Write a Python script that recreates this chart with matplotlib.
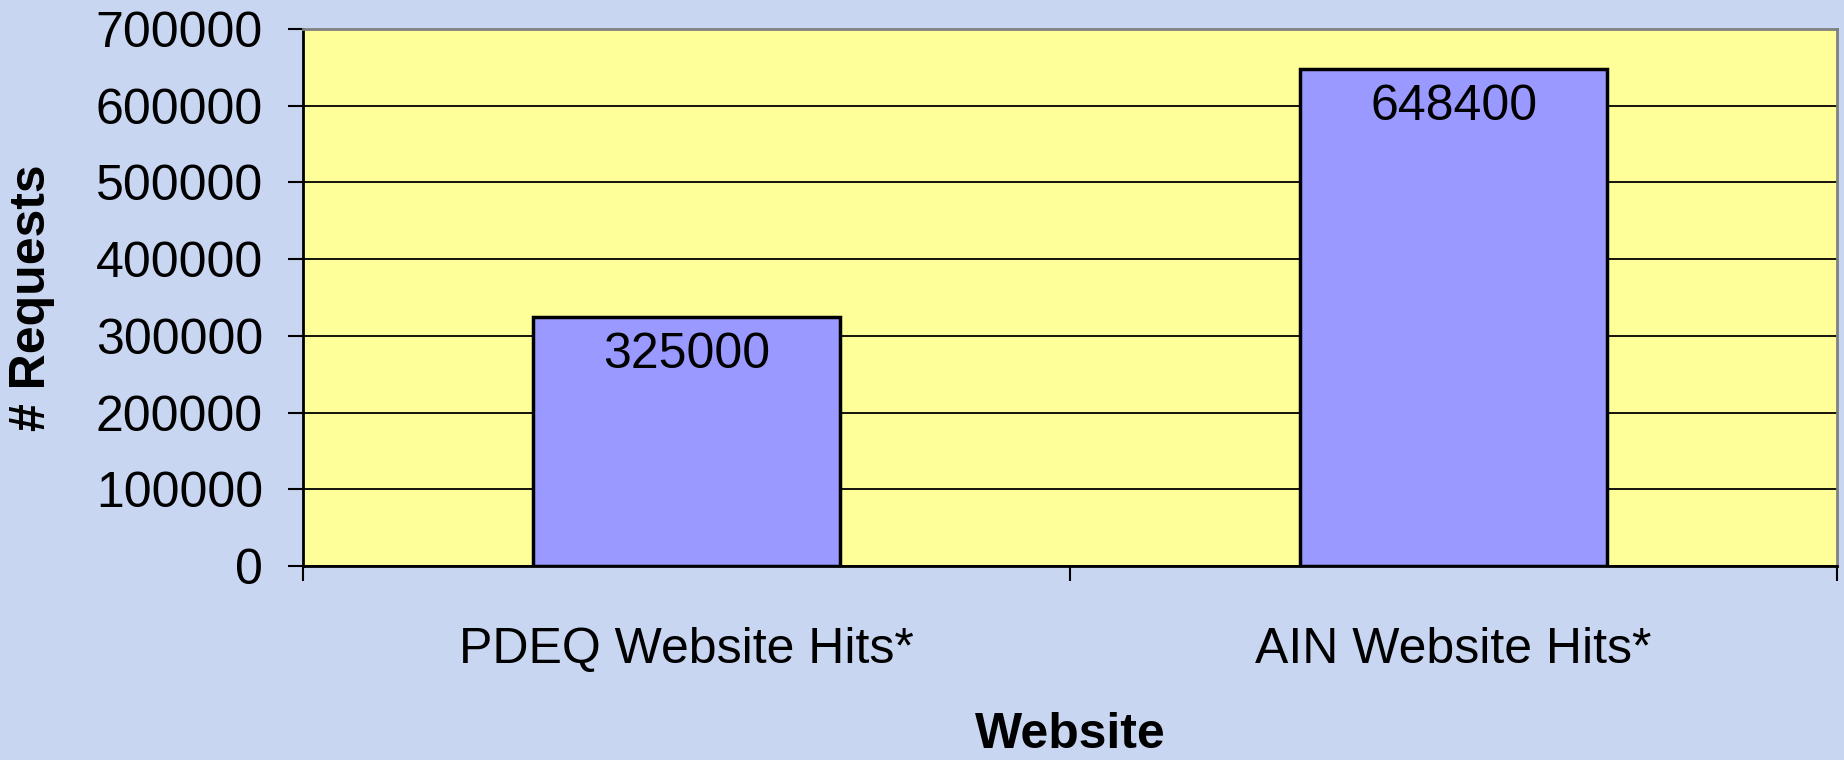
import matplotlib
matplotlib.use("Agg")
import matplotlib.pyplot as plt

categories = ["PDEQ Website Hits*", "AIN Website Hits*"]
values = [325000, 648400]
yticks = [0, 100000, 200000, 300000, 400000, 500000, 600000, 700000]

plt.rcParams['font.family'] = ['Liberation Sans', 'DejaVu Sans']

FS = 36

fig = plt.figure(figsize=(18.44, 7.6), dpi=100)
fig.patch.set_facecolor('#c9d6f2')
ax = fig.add_axes([0.1645, 0.2553, 0.9962 - 0.1645, 0.9618 - 0.2553])
ax.set_facecolor('#ffff99')

x = list(range(len(categories)))
ax.bar(x, values, width=0.4, color='#9999ff', edgecolor='black', linewidth=2.5, zorder=3)
for xi, v in zip(x, values):
    ax.annotate(str(v), (xi, v), xytext=(0, -11), textcoords='offset points',
                ha='center', va='top', fontsize=FS, zorder=4)

ax.set_xlim(-0.5, len(categories) - 0.5)
ax.set_ylim(0, 700000)
ax.set_yticks(yticks)
ax.set_yticklabels([str(t) for t in yticks], fontsize=FS)
ax.yaxis.grid(True, color='black', linewidth=1.3, zorder=1)
ax.set_axisbelow(True)

ax.set_xticks([i - 0.5 for i in range(len(categories) + 1)])
ax.set_xticklabels([])
ax.set_xticks(x, minor=True)
ax.set_xticklabels(categories, minor=True, fontsize=FS)
ax.tick_params(axis='x', which='minor', length=0, pad=44)
ax.tick_params(axis='x', which='major', length=11, width=1.5, direction='out')
ax.tick_params(axis='y', length=11, width=1.5, direction='out', pad=18)

for s in ['left', 'bottom']:
    ax.spines[s].set_color('black')
    ax.spines[s].set_linewidth(2)
for s in ['top', 'right']:
    ax.spines[s].set_color('#808080')
    ax.spines[s].set_linewidth(2)

ax.set_xlabel('Website', fontsize=FS, fontweight='bold')
ax.xaxis.set_label_coords(0.5, -0.272)
ax.xaxis.label.set_va('top')
ax.set_ylabel('# Requests', fontsize=FS, fontweight='bold')
ax.yaxis.set_label_coords(-0.162, 0.5)

fig.savefig('out.png', dpi=100, facecolor=fig.get_facecolor())
